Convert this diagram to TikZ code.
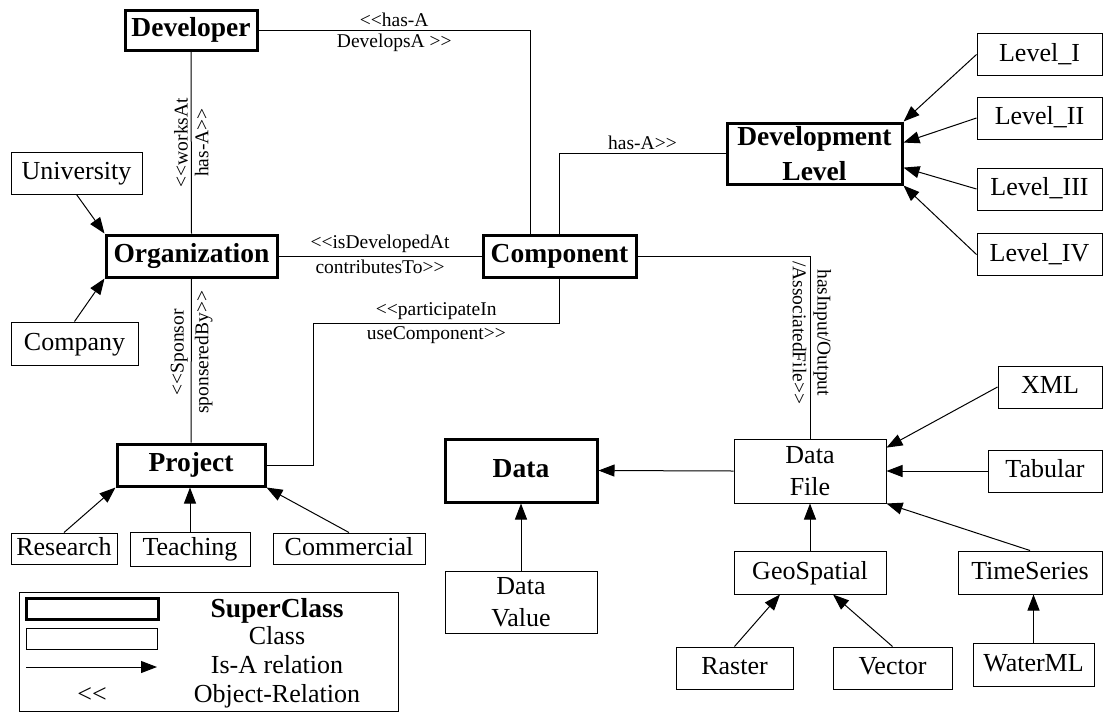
\documentclass[tikz,border=0pt]{standalone}
\usepackage{fontspec}
\setmainfont{Liberation Serif}[Ligatures=TeXOff]
\usetikzlibrary{arrows.meta}

\begin{document}
\begin{tikzpicture}[x=5pt, y=-5pt]
	\tikzstyle{superclass} = [rectangle, draw=black, fill=white, line width=1.5pt, align=center, inner sep=0pt, text height=0.85em, text depth=0.2em, font=\bfseries\fontsize{13.75}{17.5}\selectfont];
	\tikzstyle{class} = [rectangle, draw=black, fill=white, line width=0.5pt, align=center, inner sep=0pt, text height=0.85em, text depth=0.2em, font=\fontsize{13}{16}\selectfont];
	\tikzstyle{twolines} = [text height=, text depth=];
	\tikzstyle{isa} = [line width=0.5pt, -{Triangle[length=8pt,width=6pt]}];
	\tikzstyle{rel} = [line width=0.5pt];
	\tikzstyle{lbl} = [draw=none, fill=none, inner sep=1.5pt, font=\fontsize{9.75}{11}\selectfont];

	\useasboundingbox (0,0) rectangle (110.3,71.3);

	\node[superclass, minimum width=66pt, minimum height=20pt] at (19.1, 3.0) (dev) {Developer};
	\node[superclass, minimum width=85.5pt, minimum height=21pt] at (19.15, 25.6) (org) {Organization};
	\node[superclass, minimum width=76.5pt, minimum height=21pt] at (55.95, 25.6) (cpt) {Component};
	\node[superclass, minimum width=74pt, minimum height=21pt] at (19.1, 46.5) (prj) {Project};
	\node[superclass, twolines, minimum width=87.5pt, minimum height=30.5pt] at (81.45, 15.35) (dlvl) {Development\\Level};
	\node[superclass, minimum width=76pt, minimum height=31.5pt] at (52.1, 47.05) (data) {Data};

	\node[class, minimum width=65.5pt, minimum height=21pt] at (7.65, 17.3) (uni) {University};
	\node[class, minimum width=63.5pt, minimum height=21.5pt] at (7.45, 34.35) (cpy) {Company};
	\node[class, minimum width=53pt, minimum height=15.5pt] at (6.4, 54.85) (res) {Research};
	\node[class, minimum width=60pt, minimum height=17pt] at (19.0, 54.9) (tea) {Teaching};
	\node[class, minimum width=76pt, minimum height=15.5pt] at (34.9, 54.85) (com) {Commercial};

	\node[class, minimum width=62.5pt, minimum height=21pt] at (103.95, 5.45) (lvli) {Level\_I};
	\node[class, minimum width=62.5pt, minimum height=21pt] at (103.95, 11.8) (lvlii) {Level\_II};
	\node[class, minimum width=62.5pt, minimum height=21pt] at (103.95, 18.9) (lvliii) {Level\_III};
	\node[class, minimum width=62.5pt, minimum height=21pt] at (103.95, 25.45) (lvliv) {Level\_IV};

	\node[class, twolines, minimum width=76pt, minimum height=32pt] at (81.0, 47.1) (dfile) {Data\\File};
	\node[class, twolines, minimum width=76pt, minimum height=31pt] at (52.1, 60.2) (dval) {Data\\Value};
	\node[class, minimum width=52pt, minimum height=21pt] at (105.0, 38.7) (xml) {XML};
	\node[class, minimum width=57pt, minimum height=21pt] at (104.5, 47.1) (tab) {Tabular};
	\node[class, minimum width=76pt, minimum height=21.5pt] at (81.0, 57.25) (geo) {GeoSpatial};
	\node[class, minimum width=72pt, minimum height=21.5pt] at (103.0, 57.25) (ts) {TimeSeries};
	\node[class, minimum width=58.5pt, minimum height=21pt] at (73.45, 66.8) (ras) {Raster};
	\node[class, minimum width=59.5pt, minimum height=21pt] at (89.25, 66.8) (vec) {Vector};
	\node[class, minimum width=60.5pt, minimum height=21.5pt] at (103.35, 66.45) (wml) {WaterML};

	\draw[rel] (dev.east) -| ([xshift=-14.75pt]cpt.north) node[lbl,pos=0.25,above] {<<has-A} node[lbl,pos=0.25,below] {DevelopsA >>};
	\draw[rel] (dev.south) -- (org.north) node[lbl,midway,rotate=90,above] {<<worksAt} node[lbl,midway,rotate=90,below] {has-A>>};
	\draw[rel] (org.east) -- (cpt.west) node[lbl,midway,above] {<<isDevelopedAt} node[lbl,midway,below] {contributesTo>>};
	\draw[rel] (org.south) -- (prj.north) node[lbl,pos=0.45,rotate=90,above] {<<Sponsor} node[lbl,pos=0.45,rotate=90,below] {sponseredBy>>};
	\draw[rel] (cpt.north) |- (dlvl.west) node[lbl,pos=0.75,above] {has-A>>};
	\draw[rel] (cpt.east) -| (dfile.north) node[lbl,pos=0.71,rotate=-90,above] {hasInput/Output} node[lbl,pos=0.71,rotate=-90,below] {/AssociatedFile>>};
	\coordinate (bend) at (31.3, 32.3);
	\draw[rel] (cpt.south) |- (bend) node[lbl,pos=0.75,above] {<<participateIn} node[lbl,pos=0.75,below] {useComponent>>} |- (prj.east);

	\draw[isa] (uni.south) -- (org.north west);
	\draw[isa] (cpy.north) -- (org.south west);
	\draw[isa] (res.north) -- (prj.south west);
	\draw[isa] (tea.north) -- (tea.north |- prj.south);
	\draw[isa] (com.north) -- (prj.south east);

	\draw[isa] (lvli.west) -- (dlvl.north east);
	\draw[isa] (lvlii.west) -- (dlvl.7);
	\draw[isa] (lvliii.west) -- (dlvl.-9);
	\draw[isa] (lvliv.west) -- (dlvl.south east);

	\draw[isa] (dfile.west) -- (data.east);
	\draw[isa] (dval.north) -- (data.south);
	\draw[isa] (xml.west) -- (dfile.17);
	\draw[isa] (tab.west) -- (dfile.east);
	\draw[isa] (geo.north) -- (dfile.south);
	\draw[isa] (ts.north) -- (dfile.south east);
	\draw[isa] (ras.north) -- ([xshift=-15pt]geo.south);
	\draw[isa] (vec.north) -- ([xshift=11.5pt]geo.south);
	\draw[isa] (wml.north) -- (wml.north |- ts.south);

	\node[rectangle, draw=black, line width=0.5pt, minimum width=189.5pt, minimum height=59.25pt, inner sep=0pt] at (20.85, 65.2) (legend) {};
	\node[superclass, minimum width=66pt, minimum height=10pt] at (9.2, 60.9) (keysup) {};
	\node[class, minimum width=65.5pt, minimum height=9.5pt] at (9.15, 63.85) (keycls) {};
	\coordinate (keyfrom) at (2.6, 66.7);
	\coordinate (keyto) at (15.7, 66.7);
	\draw[isa] (keyfrom) -- (keyto);
	\node[class, draw=none] at (9.2, 69.6) (keyrel) {<<};
	\node[class, draw=none, font=\bfseries\fontsize{13.75}{17.5}\selectfont] at (27.7, 61.1) (txtsup) {SuperClass};
	\node[class, draw=none] at (27.7, 63.8) (txtcls) {Class};
	\node[class, draw=none] at (27.7, 66.7) (txtisa) {Is-A relation};
	\node[class, draw=none] at (27.7, 69.6) (txtrel) {Object-Relation};

\end{tikzpicture}
\end{document}
